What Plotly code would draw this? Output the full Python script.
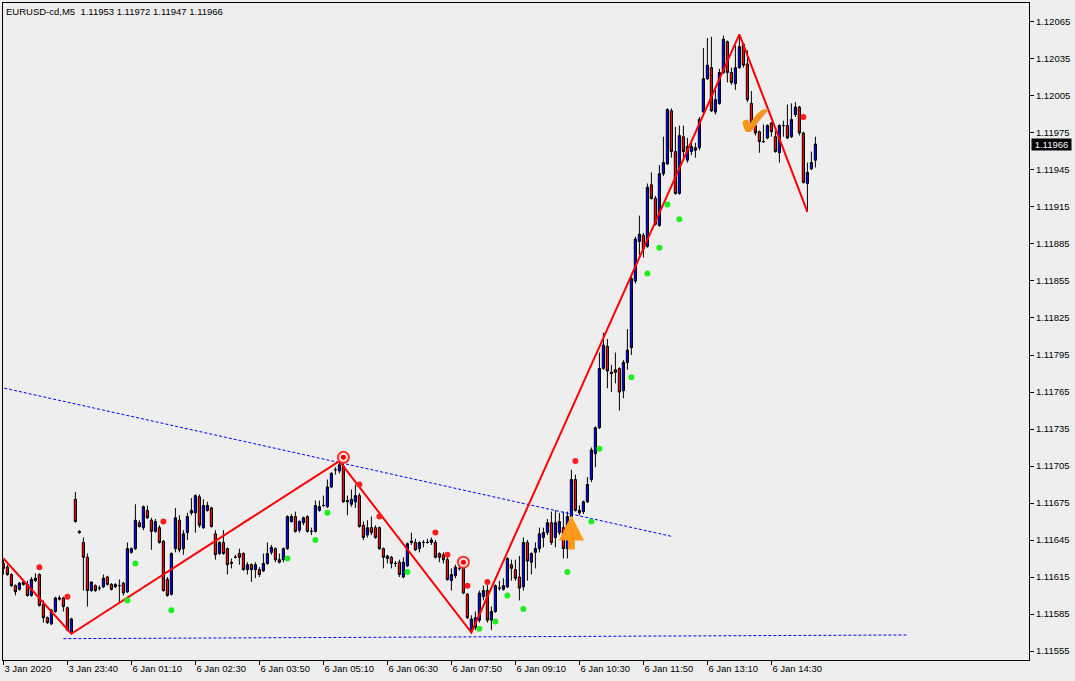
import plotly.graph_objects as go

FONT = "Liberation Sans, Arial, sans-serif"
FSIZE = 9.5

title_text = "EURUSD-cd,M5\u00a0\u00a01.11953 1.11972 1.11947 1.11966"
last_price = 1.11966

# bar positions (5-minute bars, 3 Jan 22:20 .. 6 Jan 15:25)
bars = list(range(204))

opens = [
    1.11626, 1.11623, 1.11617, 1.11608, 1.11605, 1.11609, 1.11609, 1.11600, 1.11612, 1.11617,
    1.11593, 1.11582, 1.11577, 1.11587, 1.11597, 1.11598, 1.11590, 1.11570, 1.11678, 1.11652,
    1.11643, 1.11631, 1.11604, 1.11608, 1.11606, 1.11607, 1.11615, 1.11609, 1.11607, 1.11608,
    1.11610, 1.11603, 1.11635, 1.11638, 1.11659, 1.11655, 1.11669, 1.11661, 1.11652, 1.11655,
    1.11644, 1.11613, 1.11601, 1.11638, 1.11661, 1.11638, 1.11651, 1.11667, 1.11667, 1.11680,
    1.11655, 1.11669, 1.11671, 1.11650, 1.11634, 1.11643, 1.11638, 1.11627, 1.11631, 1.11634,
    1.11634, 1.11621, 1.11625, 1.11621, 1.11621, 1.11620, 1.11626, 1.11635, 1.11638, 1.11629,
    1.11629, 1.11638, 1.11660, 1.11664, 1.11653, 1.11659, 1.11664, 1.11652, 1.11652, 1.11669,
    1.11673, 1.11672, 1.11688, 1.11702, 1.11701, 1.11705, 1.11677, 1.11674, 1.11676, 1.11681,
    1.11657, 1.11649, 1.11655, 1.11655, 1.11655, 1.11638, 1.11630, 1.11631, 1.11626, 1.11627,
    1.11615, 1.11624, 1.11643, 1.11643, 1.11638, 1.11643, 1.11643, 1.11643, 1.11643, 1.11634,
    1.11633, 1.11629, 1.11612, 1.11616, 1.11622, 1.11622, 1.11601, 1.11572, 1.11574, 1.11580,
    1.11599, 1.11604, 1.11580, 1.11587, 1.11606, 1.11605, 1.11607, 1.11625, 1.11621, 1.11615,
    1.11607, 1.11643, 1.11627, 1.11635, 1.11638, 1.11647, 1.11651, 1.11659, 1.11647, 1.11651,
    1.11655, 1.11638, 1.11664, 1.11694, 1.11667, 1.11668, 1.11676, 1.11694, 1.11715, 1.11736,
    1.11784, 1.11802, 1.11781, 1.11783, 1.11784, 1.11766, 1.11789, 1.11801, 1.11855, 1.11887,
    1.11892, 1.11883, 1.11933, 1.11922, 1.11900, 1.11942, 1.11950, 1.11993, 1.11960, 1.11926,
    1.11972, 1.11953, 1.11960, 1.11961, 1.11963, 1.11992, 1.12019, 1.12028, 1.11992, 1.11999,
    1.12024, 1.12049, 1.12024, 1.12015, 1.12028, 1.12047, 1.12031, 1.11999, 1.11981, 1.11976,
    1.11968, 1.11971, 1.11983, 1.11972, 1.11959, 1.11981, 1.11981, 1.11972, 1.11990, 1.11996,
    1.11975, 1.11934, 1.11946, 1.11953,
]

highs = [
    1.11630, 1.11625, 1.11618, 1.11609, 1.11611, 1.11613, 1.11612, 1.11615, 1.11618, 1.11618,
    1.11596, 1.11583, 1.11589, 1.11599, 1.11600, 1.11599, 1.11591, 1.11582, 1.11684, 1.11653,
    1.11647, 1.11634, 1.11611, 1.11609, 1.11608, 1.11617, 1.11616, 1.11610, 1.11610, 1.11613,
    1.11611, 1.11643, 1.11639, 1.11674, 1.11661, 1.11673, 1.11673, 1.11663, 1.11662, 1.11657,
    1.11645, 1.11615, 1.11635, 1.11671, 1.11665, 1.11653, 1.11667, 1.11679, 1.11682, 1.11682,
    1.11678, 1.11676, 1.11672, 1.11653, 1.11644, 1.11653, 1.11639, 1.11630, 1.11633, 1.11638,
    1.11635, 1.11627, 1.11626, 1.11627, 1.11623, 1.11634, 1.11643, 1.11641, 1.11639, 1.11634,
    1.11639, 1.11665, 1.11666, 1.11668, 1.11661, 1.11664, 1.11665, 1.11655, 1.11677, 1.11677,
    1.11681, 1.11694, 1.11700, 1.11704, 1.11709, 1.11707, 1.11681, 1.11686, 1.11690, 1.11683,
    1.11660, 1.11661, 1.11664, 1.11657, 1.11656, 1.11639, 1.11633, 1.11632, 1.11628, 1.11629,
    1.11631, 1.11643, 1.11651, 1.11646, 1.11644, 1.11645, 1.11646, 1.11647, 1.11645, 1.11635,
    1.11635, 1.11632, 1.11622, 1.11625, 1.11624, 1.11623, 1.11602, 1.11584, 1.11587, 1.11604,
    1.11608, 1.11612, 1.11591, 1.11609, 1.11612, 1.11614, 1.11631, 1.11629, 1.11629, 1.11632,
    1.11647, 1.11645, 1.11635, 1.11643, 1.11655, 1.11655, 1.11662, 1.11668, 1.11669, 1.11667,
    1.11668, 1.11668, 1.11702, 1.11698, 1.11673, 1.11677, 1.11696, 1.11720, 1.11737, 1.11797,
    1.11813, 1.11808, 1.11787, 1.11797, 1.11785, 1.11791, 1.11816, 1.11861, 1.11891, 1.11908,
    1.11894, 1.11934, 1.11943, 1.11924, 1.11949, 1.11972, 1.11995, 1.11995, 1.11980, 1.11981,
    1.11981, 1.11971, 1.11969, 1.11967, 1.11988, 1.12044, 1.12052, 1.12053, 1.12010, 1.12027,
    1.12054, 1.12050, 1.12028, 1.12046, 1.12055, 1.12048, 1.12042, 1.12009, 1.11983, 1.11977,
    1.11982, 1.11982, 1.11984, 1.11977, 1.11982, 1.11985, 1.11998, 1.11999, 1.12000, 1.11997,
    1.11976, 1.11951, 1.11960, 1.11972,
]

lows = [
    1.11617, 1.11616, 1.11607, 1.11600, 1.11604, 1.11608, 1.11599, 1.11599, 1.11611, 1.11591,
    1.11578, 1.11577, 1.11576, 1.11586, 1.11596, 1.11587, 1.11571, 1.11569, 1.11659, 1.11650,
    1.11604, 1.11591, 1.11603, 1.11603, 1.11604, 1.11606, 1.11608, 1.11604, 1.11606, 1.11594,
    1.11600, 1.11602, 1.11634, 1.11637, 1.11655, 1.11653, 1.11662, 1.11637, 1.11651, 1.11642,
    1.11603, 1.11599, 1.11600, 1.11635, 1.11635, 1.11633, 1.11645, 1.11665, 1.11651, 1.11655,
    1.11654, 1.11668, 1.11655, 1.11629, 1.11633, 1.11633, 1.11617, 1.11622, 1.11630, 1.11625,
    1.11620, 1.11617, 1.11611, 1.11614, 1.11615, 1.11619, 1.11625, 1.11633, 1.11627, 1.11626,
    1.11627, 1.11637, 1.11659, 1.11651, 1.11651, 1.11657, 1.11651, 1.11649, 1.11651, 1.11668,
    1.11672, 1.11671, 1.11687, 1.11698, 1.11699, 1.11675, 1.11665, 1.11672, 1.11671, 1.11655,
    1.11645, 1.11647, 1.11649, 1.11646, 1.11637, 1.11622, 1.11626, 1.11622, 1.11623, 1.11615,
    1.11614, 1.11623, 1.11641, 1.11636, 1.11635, 1.11639, 1.11642, 1.11641, 1.11630, 1.11627,
    1.11626, 1.11612, 1.11604, 1.11614, 1.11620, 1.11601, 1.11581, 1.11570, 1.11572, 1.11578,
    1.11596, 1.11578, 1.11572, 1.11586, 1.11604, 1.11604, 1.11606, 1.11612, 1.11612, 1.11596,
    1.11604, 1.11612, 1.11617, 1.11622, 1.11635, 1.11639, 1.11649, 1.11641, 1.11639, 1.11649,
    1.11630, 1.11630, 1.11661, 1.11668, 1.11665, 1.11666, 1.11675, 1.11692, 1.11704, 1.11735,
    1.11783, 1.11768, 1.11765, 1.11772, 1.11750, 1.11760, 1.11783, 1.11795, 1.11853, 1.11876,
    1.11874, 1.11882, 1.11921, 1.11900, 1.11899, 1.11940, 1.11949, 1.11955, 1.11925, 1.11925,
    1.11955, 1.11951, 1.11957, 1.11955, 1.11961, 1.11991, 1.12018, 1.11992, 1.11990, 1.11998,
    1.12023, 1.12016, 1.12014, 1.12010, 1.12027, 1.12028, 1.12000, 1.11977, 1.11973, 1.11959,
    1.11967, 1.11970, 1.11972, 1.11959, 1.11951, 1.11972, 1.11970, 1.11971, 1.11988, 1.11973,
    1.11934, 1.11911, 1.11945, 1.11947,
]

closes = [
    1.11622, 1.11617, 1.11608, 1.11603, 1.11610, 1.11611, 1.11600, 1.11613, 1.11614, 1.11592,
    1.11582, 1.11578, 1.11588, 1.11598, 1.11598, 1.11591, 1.11572, 1.11581, 1.11660, 1.11651,
    1.11631, 1.11604, 1.11611, 1.11604, 1.11606, 1.11614, 1.11609, 1.11605, 1.11609, 1.11608,
    1.11602, 1.11638, 1.11638, 1.11661, 1.11656, 1.11672, 1.11663, 1.11652, 1.11660, 1.11643,
    1.11604, 1.11600, 1.11634, 1.11663, 1.11637, 1.11650, 1.11664, 1.11669, 1.11681, 1.11657,
    1.11673, 1.11673, 1.11656, 1.11633, 1.11643, 1.11634, 1.11625, 1.11626, 1.11631, 1.11631,
    1.11621, 1.11625, 1.11621, 1.11625, 1.11617, 1.11626, 1.11634, 1.11639, 1.11629, 1.11627,
    1.11638, 1.11664, 1.11664, 1.11652, 1.11660, 1.11663, 1.11652, 1.11652, 1.11673, 1.11672,
    1.11673, 1.11688, 1.11699, 1.11702, 1.11706, 1.11676, 1.11676, 1.11678, 1.11681, 1.11656,
    1.11647, 1.11655, 1.11651, 1.11647, 1.11638, 1.11631, 1.11632, 1.11626, 1.11626, 1.11617,
    1.11627, 1.11642, 1.11644, 1.11637, 1.11643, 1.11643, 1.11643, 1.11645, 1.11631, 1.11631,
    1.11629, 1.11613, 1.11617, 1.11623, 1.11622, 1.11602, 1.11582, 1.11581, 1.11582, 1.11602,
    1.11604, 1.11580, 1.11587, 1.11608, 1.11606, 1.11608, 1.11630, 1.11622, 1.11614, 1.11606,
    1.11643, 1.11628, 1.11634, 1.11638, 1.11650, 1.11651, 1.11659, 1.11643, 1.11659, 1.11660,
    1.11638, 1.11664, 1.11694, 1.11669, 1.11669, 1.11676, 1.11690, 1.11718, 1.11736, 1.11784,
    1.11803, 1.11782, 1.11780, 1.11781, 1.11765, 1.11789, 1.11799, 1.11857, 1.11889, 1.11893,
    1.11881, 1.11931, 1.11922, 1.11901, 1.11942, 1.11951, 1.11994, 1.11960, 1.11926, 1.11973,
    1.11960, 1.11964, 1.11964, 1.11963, 1.11986, 1.12019, 1.12030, 1.11993, 1.12002, 1.12024,
    1.12051, 1.12024, 1.12016, 1.12028, 1.12045, 1.12030, 1.12002, 1.11983, 1.11975, 1.11968,
    1.11968, 1.11981, 1.11976, 1.11960, 1.11981, 1.11981, 1.11971, 1.11986, 1.11996, 1.11975,
    1.11935, 1.11943, 1.11951, 1.11966,
]

# time axis labels
tick_bars = [0, 16, 32, 48, 64, 80, 96, 112, 128, 144, 160, 176, 192]
tick_text = ["3 Jan 2020", "3 Jan 23:40", "6 Jan 01:10", "6 Jan 02:30", "6 Jan 03:50",
             "6 Jan 05:10", "6 Jan 06:30", "6 Jan 07:50", "6 Jan 09:10", "6 Jan 10:30",
             "6 Jan 11:50", "6 Jan 13:10", "6 Jan 14:30"]
price_ticks = [1.11555, 1.11585, 1.11615, 1.11645, 1.11675, 1.11705, 1.11735, 1.11765, 1.11795,
               1.11825, 1.11855, 1.11885, 1.11915, 1.11945, 1.11975, 1.12005, 1.12035, 1.12065]

# ZigZag
zigzag_bars = [0, 17, 84, 117, 184, 201]
zigzag_prices = [1.11630, 1.11569, 1.11709, 1.11570, 1.12055, 1.11911]

# trend lines
trend_bars = [-1, 167]
trend_prices = [1.11769, 1.11648]
support_bars = [15, 226]
support_prices = [1.11565, 1.11568]

# signal dots
red_dot_bars = [9, 16, 40, 89, 94, 108, 111, 116, 121, 143, 200]
red_dot_prices = [1.11623, 1.11599, 1.11660, 1.11690, 1.11664, 1.11651, 1.11633, 1.11608,
                  1.11611, 1.11709, 1.11988]
green_dot_bars = [31, 33, 42, 71, 78, 81, 101, 119, 123, 126, 130, 141, 147, 149, 157, 161,
                  164, 166, 169]
green_dot_prices = [1.11596, 1.11626, 1.11588, 1.11630, 1.11645, 1.11667, 1.11619, 1.11573,
                    1.11579, 1.11600, 1.11589, 1.11619, 1.11660, 1.11719, 1.11777, 1.11861,
                    1.11882, 1.11917, 1.11905]

target_bars = [85, 115]
target_prices = [1.11712, 1.11627]

arrow_bar = 142
arrow_tip = 1.11665
arrow_tail = 1.11636

check_bar = 188
check_price = 1.11984

BG = "#eeeeee"

fig = go.Figure()

fig.add_trace(go.Candlestick(
    x=bars, open=opens, high=highs, low=lows, close=closes,
    increasing=dict(fillcolor="#0000ff", line=dict(color="black", width=1)),
    decreasing=dict(fillcolor="#ff0000", line=dict(color="black", width=1)),
    whiskerwidth=0, showlegend=False, hoverinfo="skip",
))

fig.add_trace(go.Scatter(x=trend_bars, y=trend_prices, mode="lines",
                         line=dict(color="#0000ff", width=1, dash="3px,2px"),
                         hoverinfo="skip", showlegend=False))
fig.add_trace(go.Scatter(x=support_bars, y=support_prices, mode="lines",
                         line=dict(color="#0000ff", width=1, dash="3px,2px"),
                         hoverinfo="skip", showlegend=False))

fig.add_trace(go.Scatter(x=zigzag_bars, y=zigzag_prices, mode="lines",
                         line=dict(color="#ff0000", width=2),
                         hoverinfo="skip", showlegend=False))

fig.add_trace(go.Scatter(x=red_dot_bars, y=red_dot_prices, mode="markers",
                         marker=dict(color="#ff1e1e", size=6, line=dict(width=0)),
                         hoverinfo="skip", showlegend=False))
fig.add_trace(go.Scatter(x=green_dot_bars, y=green_dot_prices, mode="markers",
                         marker=dict(color="#1ef01e", size=6, line=dict(width=0)),
                         hoverinfo="skip", showlegend=False))

for size, col in [(13, "#ff3030"), (9, "#ffe4e4"), (5, "#ff0000")]:
    fig.add_trace(go.Scatter(x=target_bars, y=target_prices, mode="markers",
                             marker=dict(color=col, size=size, line=dict(width=0)),
                             hoverinfo="skip", showlegend=False))

fig.add_annotation(x=arrow_bar, y=arrow_tip, ax=arrow_bar, ay=arrow_tail,
                   xref="x", yref="y", axref="x", ayref="y", text="",
                   showarrow=True, arrowhead=2, arrowsize=0.72, arrowwidth=7,
                   arrowcolor="#ff9a1a")

fig.add_annotation(x=check_bar, y=check_price, xref="x", yref="y", text="\u2714",
                   showarrow=False, font=dict(family="DejaVu Sans", size=42, color="#f7941d"))

fig.add_annotation(xref="paper", yref="y", x=1, y=last_price, xanchor="left",
                   xshift=2, text=f"{last_price:.5f}", showarrow=False,
                   bgcolor="black", font=dict(family=FONT, size=FSIZE, color="white"),
                   borderpad=0, width=39, height=11)

fig.add_annotation(xref="paper", yref="paper", x=0, y=1, xanchor="left", yanchor="top",
                   xshift=1, yshift=-1, text=title_text, showarrow=False,
                   font=dict(family=FONT, size=FSIZE, color="black"))

fig.update_layout(
    width=1075, height=681,
    margin=dict(l=3, r=46, t=3, b=21),
    paper_bgcolor=BG, plot_bgcolor=BG,
    showlegend=False, boxgap=0.22,
    font=dict(family=FONT, size=FSIZE, color="black"),
)
fig.update_xaxes(
    range=[-0.1, 256.4], rangeslider_visible=False, showgrid=False, zeroline=False,
    showline=True, mirror=True, linecolor="black", linewidth=1,
    ticks="outside", ticklen=4, tickcolor="black", tickangle=0, automargin=False,
    tickvals=tick_bars, ticktext=tick_text, ticklabelposition="outside right",
)
fig.update_yaxes(
    range=[1.115477, 1.120804], side="right", showgrid=False, zeroline=False,
    showline=True, mirror=True, linecolor="black", linewidth=1, automargin=False,
    ticks="outside", ticklen=4, tickcolor="black",
    tickvals=price_ticks, ticktext=[f"{v:.5f}" for v in price_ticks],
)

fig.write_html("out.html", config={"displayModeBar": False},
               post_script="document.body.style.margin='0';document.body.style.overflow='hidden';")
